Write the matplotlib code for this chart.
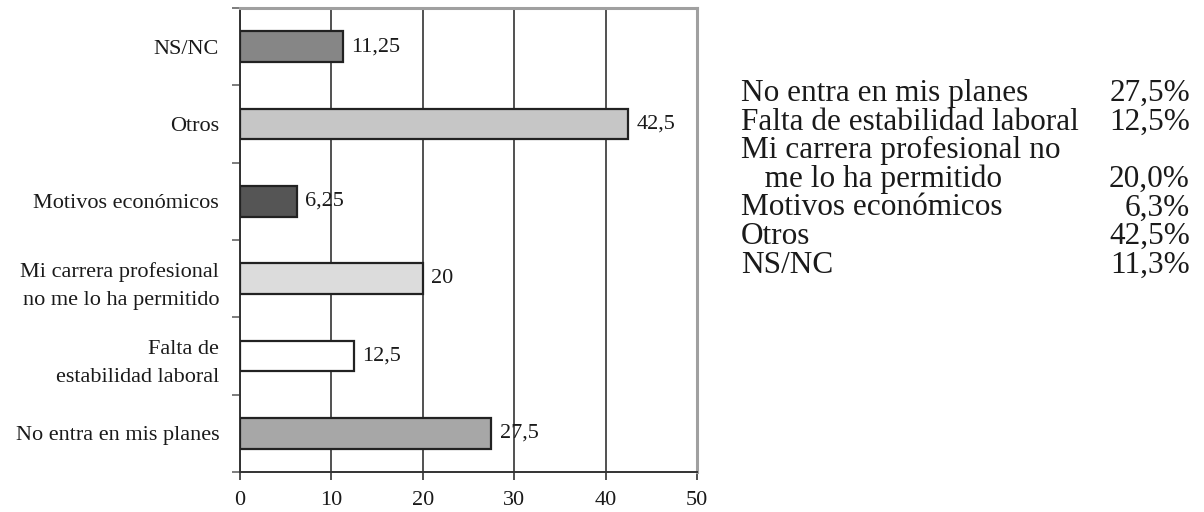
import numpy as np
import matplotlib.pyplot as plt

plt.rcParams['font.family'] = ['Liberation Serif', 'DejaVu Serif']

# motivos (de abajo hacia arriba)
categorias = ['No entra en mis planes', 'Falta de\nestabilidad laboral',
              'Mi carrera profesional\nno me lo ha permitido', 'Motivos económicos',
              'Otros', 'NS/NC']
valores = [27.5, 12.5, 20, 6.25, 42.5, 11.25]
etiquetas = ['27,5', '12,5', '20', '6,25', '42,5', '11,25']
colores = ['#a7a7a7', '#ffffff', '#dcdcdc', '#555555', '#c6c6c6', '#868686']

# tabla de porcentajes a la derecha
tabla_nombres = ['No entra en mis planes', 'Falta de estabilidad laboral',
                 'Mi carrera profesional no', '   me lo ha permitido',
                 'Motivos económicos', 'Otros', 'NS/NC']
tabla_valores = ['27,5%', '12,5%', '', '20,0%', '6,3%', '42,5%', '11,3%']

fig = plt.figure(figsize=(12.04, 5.12), dpi=100)
ax = fig.add_axes([240/1204, 1-472/512, 457/1204, 464/512])

y = np.arange(len(valores))
ax.barh(y, valores, height=0.4, color=colores, edgecolor='#222222',
        linewidth=1.6, zorder=3)
for yi, v, t in zip(y, valores, etiquetas):
    ax.text(v + 0.9, yi, t, va='center', ha='left', fontsize=16,
            color='#1a1a1a', zorder=4)

ax.set_xlim(0, 50)
ax.set_ylim(-0.5, len(valores) - 0.5)
ax.set_xticks([0, 10, 20, 30, 40, 50])
ax.set_yticks(y)
ax.set_yticklabels(categorias, fontsize=16, color='#1a1a1a', linespacing=1.65)
ax.tick_params(axis='y', length=0, pad=15)
ax.set_yticks(np.arange(-0.5, len(valores)), minor=True)
ax.tick_params(axis='y', which='minor', length=6, width=1.2, color='#666666')
ax.tick_params(axis='x', length=6, width=1.2, color='#333333',
               labelsize=16, labelcolor='#1a1a1a', pad=8)

ax.grid(axis='x', color='#222222', linewidth=1.1, zorder=0)
for lado in ['top', 'right']:
    ax.spines[lado].set_color('#a0a0a0')
    ax.spines[lado].set_linewidth(2.2)
for lado in ['left', 'bottom']:
    ax.spines[lado].set_color('#333333')
    ax.spines[lado].set_linewidth(1.4)

# tabla de texto
y0 = 1 - 101/512
paso = 28.6/512
for i, (n, v) in enumerate(zip(tabla_nombres, tabla_valores)):
    fig.text(741/1204, y0 - i*paso, n, fontsize=22.5, va='baseline',
             ha='left', color='#1a1a1a')
    fig.text(1190/1204, y0 - i*paso, v, fontsize=22.5, va='baseline',
             ha='right', color='#1a1a1a')

fig.savefig('out.png', dpi=100)
